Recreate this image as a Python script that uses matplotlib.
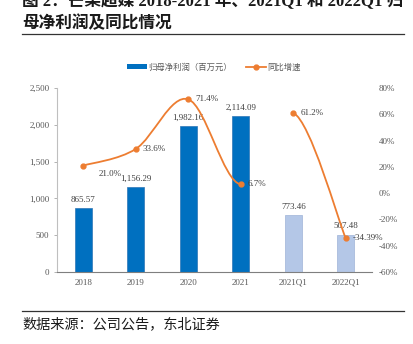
import matplotlib
matplotlib.use("Agg")
import matplotlib.pyplot as plt
from matplotlib.path import Path
from matplotlib.patches import PathPatch, Patch
from matplotlib.lines import Line2D
from matplotlib.ticker import FuncFormatter, MultipleLocator

categories = ["2018", "2019", "2020", "2021", "2021Q1", "2022Q1"]
net_profit = [865.57, 1156.29, 1982.16, 2114.09, 773.46, 507.48]
growth = [21.0, 33.6, 71.4, 6.7, 61.2, -34.39]
growth_digits = [1, 1, 1, 1, 1, 2]
line_groups = [[0, 1, 2, 3], [4, 5]]
bar_colors = ["#0070C0"] * 4 + ["#B4C7E7"] * 2

serif = ["Liberation Serif", "Noto Sans CJK SC"]
cjk = ["Noto Sans CJK SC", "DejaVu Sans"]
grey = "#595959"

fig = plt.figure(figsize=(4.13, 3.44), dpi=100)
W, H = 413, 344


def fx(px):
    return px / W


def fy(py):
    return 1 - py / H


ax = fig.add_axes([fx(57), fy(272), fx(372) - fx(57), fy(88) - fy(272)])
ax2 = ax.twinx()
ax.set_zorder(1)
ax2.set_zorder(2)
ax.patch.set_visible(False)

x = list(range(len(categories)))
bars = ax.bar(x, net_profit, width=0.32, color=bar_colors,
              edgecolor=["#2E75B6"] * 4 + ["#9FB4D8"] * 2, linewidth=0.5, zorder=2)
for xi, v in zip(x, net_profit):
    ax.annotate(f"{v:,.2f}", (xi, v), xytext=(0, 3), textcoords="offset points",
                ha="center", va="bottom", fontsize=6.5, family=serif, color="#404040")

ax.set_xlim(-0.5, len(categories) - 0.5)
ax.set_ylim(0, 2500)
ax.yaxis.set_major_locator(MultipleLocator(500))
ax.yaxis.set_major_formatter(FuncFormatter(lambda v, p: f"{v:,.0f}"))
ax.set_xticks(x)
ax.set_xticklabels(categories)
for lab in ax.get_xticklabels() + ax.get_yticklabels():
    lab.set_family(serif)
    lab.set_fontsize(6.5)
    lab.set_color(grey)
ax.tick_params(axis="x", length=0, pad=5)
ax.tick_params(axis="y", length=2.5, width=0.6, color="#A6A6A6", pad=3)
for s in ["top", "right"]:
    ax.spines[s].set_visible(False)
ax.spines["left"].set_color("#BFBFBF")
ax.spines["bottom"].set_color("#7F7F7F")
ax.spines["left"].set_linewidth(0.8)
ax.spines["bottom"].set_linewidth(0.8)

# growth line: smoothed Bezier segments through the data points
ax2.set_ylim(-60, 80)
ax2.set_xlim(ax.get_xlim())
ax2.yaxis.set_major_locator(MultipleLocator(20))
ax2.yaxis.set_major_formatter(FuncFormatter(lambda v, p: f"{v:.0f}%"))
for lab in ax2.get_yticklabels():
    lab.set_family(serif)
    lab.set_fontsize(6.5)
    lab.set_color(grey)
ax2.tick_params(axis="y", length=0, pad=5)
for s in ax2.spines.values():
    s.set_visible(False)

orange = "#ED7D31"
pts = list(zip(x, growth))
n = len(pts)
for grp in line_groups:
    verts = [pts[grp[0]]]
    codes = [Path.MOVETO]
    for i in grp[:-1]:
        p0 = pts[max(i - 1, 0)]
        p1 = pts[i]
        p2 = pts[i + 1]
        p3 = pts[min(i + 2, n - 1)]
        c1 = (p1[0] + (p2[0] - p0[0]) / 6, p1[1] + (p2[1] - p0[1]) / 6)
        c2 = (p2[0] - (p3[0] - p1[0]) / 6, p2[1] - (p3[1] - p1[1]) / 6)
        verts += [c1, c2, p2]
        codes += [Path.CURVE4] * 3
    ax2.add_patch(PathPatch(Path(verts, codes), facecolor="none",
                            edgecolor=orange, linewidth=1.3, zorder=3))
ax2.plot(x, growth, linestyle="none", marker="o", markersize=3.5,
         color=orange, zorder=4)
for xi, v, d in zip(x, growth, growth_digits):
    dx, dy = (11, -6) if xi == 0 else (5, 0)
    ax2.annotate(f"{v:.{d}f}%", (xi, v), xytext=(dx, dy), textcoords="offset points",
                 ha="left", va="center", fontsize=6.5, family=serif, color="#404040")

# legend
handles = [Patch(facecolor="#0070C0", edgecolor="none"),
           Line2D([0], [0], color=orange, lw=1.3, marker="o", markersize=3.5)]
leg = fig.legend(handles, ["归母净利润（百万元）", "同比增速"], loc="center",
                 bbox_to_anchor=(fx(214), fy(67)), ncol=2, frameon=False,
                 prop={"family": cjk, "size": 6}, handlelength=2.4, handleheight=0.5,
                 columnspacing=1.6, handletextpad=0.2)
for t in leg.get_texts():
    t.set_color(grey)

# title, rules and source
fig.text(fx(22), fy(1), "图 2：芒果超媒 2018-2021 年、2021Q1 和 2022Q1 归",
         ha="left", va="center", fontsize=12, weight="bold", family=serif, color="#1a1a1a")
fig.text(fx(22), fy(23.5), "母净利润及同比情况", ha="left", va="center",
         fontsize=12, weight="bold", family=cjk, color="#1a1a1a")
fig.add_artist(Line2D([fx(22), fx(404)], [fy(33.5), fy(33.5)], color="#333333", lw=0.9))
fig.add_artist(Line2D([fx(22), fx(404)], [fy(311), fy(311)], color="#333333", lw=0.9))
fig.text(fx(22), fy(324), "数据来源：公司公告，东北证券", ha="left", va="center",
         fontsize=10.2, family=cjk, color="#1a1a1a")

fig.savefig("out.png", dpi=100)
